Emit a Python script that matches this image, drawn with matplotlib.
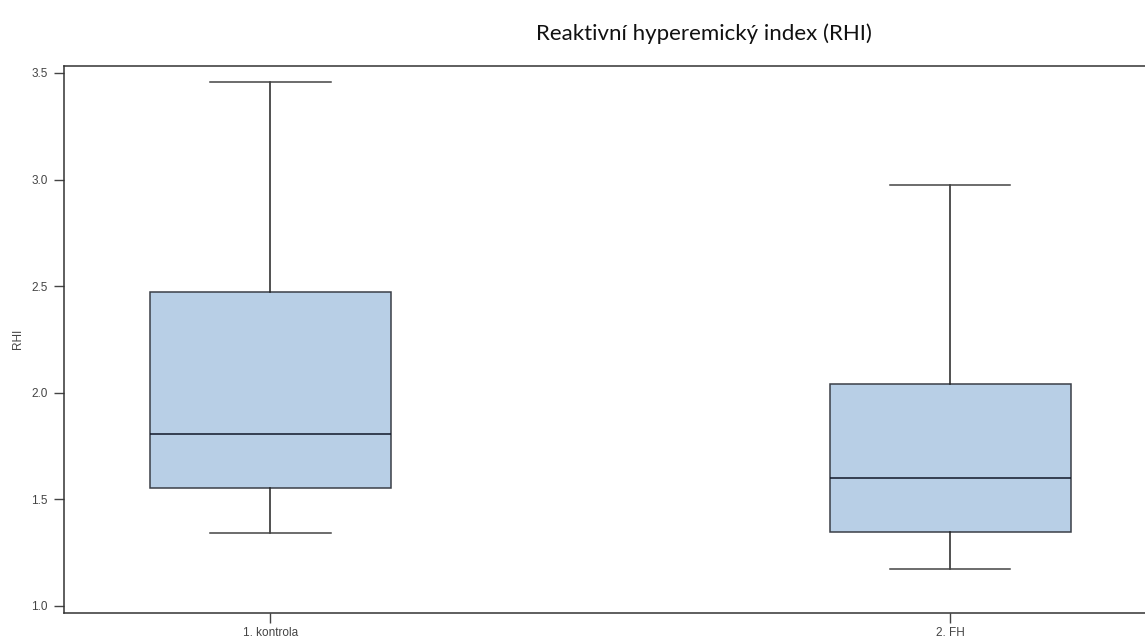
import matplotlib
matplotlib.use("Agg")
import matplotlib.pyplot as plt

# summary statistics of RHI per group
groups = ["1. kontrola", "2. FH"]
whisker_low = [1.34, 1.17]
q1 = [1.55, 1.344]
median = [1.807, 1.597]
q3 = [2.47, 2.041]
whisker_high = [3.46, 2.972]

stats = []
for i, name in enumerate(groups):
    stats.append({
        "label": name,
        "whislo": whisker_low[i],
        "q1": q1[i],
        "med": median[i],
        "q3": q3[i],
        "whishi": whisker_high[i],
        "fliers": [],
    })

fig = plt.figure(figsize=(11.45, 6.41), dpi=100)
ax = fig.add_axes([0.0562, 0.0442, 0.9537, 0.8529])

ax.bxp(
    stats,
    positions=[1, 2],
    widths=0.354,
    patch_artist=True,
    showfliers=False,
    boxprops=dict(facecolor="#b8cfe6", edgecolor="#3a3f47", linewidth=1.1),
    medianprops=dict(color="#101828", linewidth=1.1),
    whiskerprops=dict(color="#222222", linewidth=1.1),
    capprops=dict(color="#444444", linewidth=1.1),
    capwidths=0.177,
)

ax.set_xlim(0.697, 2.303)
ax.set_ylim(0.967, 3.533)
ax.set_yticks([1.0, 1.5, 2.0, 2.5, 3.0, 3.5])
ax.set_yticklabels(["1.0", "1.5", "2.0", "2.5", "3.0", "3.5"])

for side in ["top", "left", "bottom"]:
    ax.spines[side].set_color("#333333")
    ax.spines[side].set_linewidth(1.1)
ax.spines["right"].set_visible(False)

ax.tick_params(axis="both", direction="out", length=7, width=1.0,
               color="#444444", labelsize=8.5, labelcolor="#444444", pad=5)
ax.tick_params(axis="x", pad=3)
for lbl in ax.get_xticklabels() + ax.get_yticklabels():
    lbl.set_family("Liberation Sans")

ax.set_ylabel("RHI", fontsize=8.5, color="#444444", family="Liberation Sans")
ax.yaxis.set_label_coords(-0.037, 0.5)

fig.text(0.615, 0.948, "Reaktivní hyperemický index (RHI)", ha="center",
         va="center", fontsize=16, family="Lato", color="#111111")

fig.savefig("out.png", dpi=100)
